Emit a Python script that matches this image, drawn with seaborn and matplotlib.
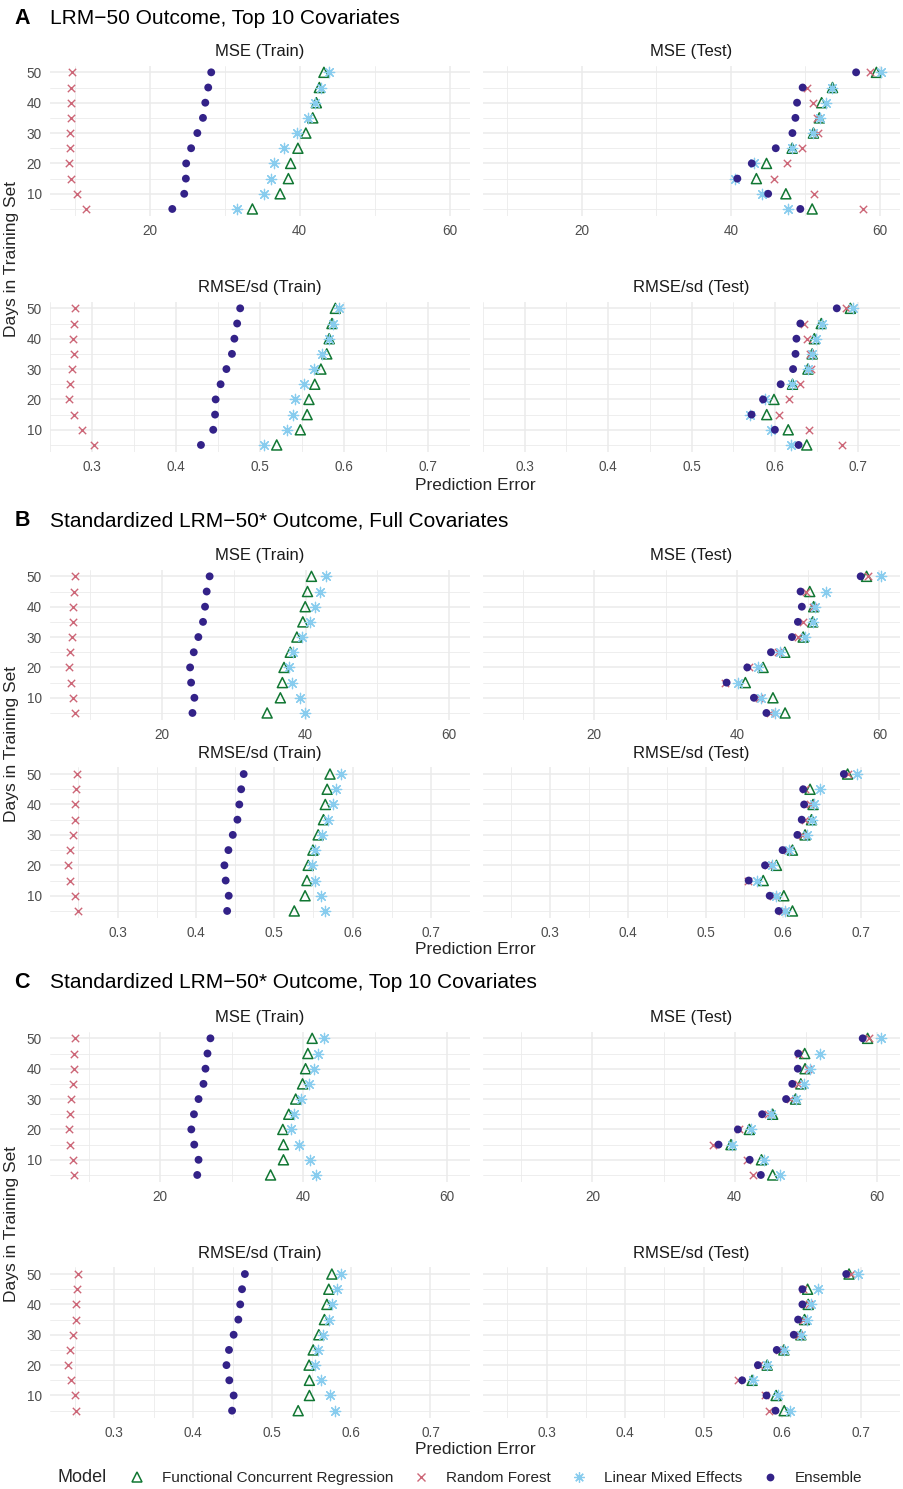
import numpy as np
import pandas as pd
import matplotlib
matplotlib.use("Agg")
import matplotlib.pyplot as plt
from matplotlib.lines import Line2D
import seaborn as sns

# ---------------- data ----------------
days = [50, 45, 40, 35, 30, 25, 20, 15, 10, 5]
models = ["Functional Concurrent Regression", "Random Forest",
          "Linear Mixed Effects", "Ensemble"]

# Section A: LRM-50 outcome, top 10 covariates
a_mse_train = {
    "Functional Concurrent Regression": [43.25, 42.64, 42.24, 41.76, 40.84, 39.78, 38.81, 38.51, 37.41, 33.71],
    "Random Forest": [9.67, 9.58, 9.54, 9.58, 9.45, 9.36, 9.27, 9.58, 10.33, 11.47],
    "Linear Mixed Effects": [43.87, 42.86, 42.11, 41.10, 39.69, 37.98, 36.62, 36.18, 35.25, 31.69],
    "Ensemble": [28.22, 27.82, 27.43, 27.12, 26.37, 25.54, 24.88, 24.84, 24.62, 23.03],
}
a_mse_test = {
    "Functional Concurrent Regression": [59.56, 53.66, 52.20, 51.89, 51.10, 48.24, 44.80, 43.44, 47.40, 50.93],
    "Random Forest": [58.72, 50.26, 51.01, 51.54, 51.72, 49.60, 47.49, 45.86, 51.23, 57.80],
    "Linear Mixed Effects": [60.18, 53.66, 52.82, 51.98, 51.10, 48.19, 43.17, 40.53, 44.23, 47.75],
    "Ensemble": [56.83, 49.65, 48.90, 48.68, 48.28, 46.04, 42.82, 40.88, 45.02, 49.34],
}
a_rmse_train = {
    "Functional Concurrent Regression": [0.5897, 0.5857, 0.5824, 0.5795, 0.5725, 0.5652, 0.5583, 0.5561, 0.5480, 0.5199],
    "Random Forest": [0.2792, 0.2781, 0.2774, 0.2781, 0.2759, 0.2741, 0.2730, 0.2784, 0.2883, 0.3029],
    "Linear Mixed Effects": [0.5941, 0.5871, 0.5816, 0.5743, 0.5645, 0.5521, 0.5422, 0.5393, 0.5320, 0.5049],
    "Ensemble": [0.4764, 0.4728, 0.4695, 0.4666, 0.4600, 0.4531, 0.4472, 0.4465, 0.4443, 0.4297],
}
a_rmse_test = {
    "Functional Concurrent Regression": [0.6905, 0.6556, 0.6473, 0.6447, 0.6396, 0.6211, 0.5989, 0.5902, 0.6160, 0.6382],
    "Random Forest": [0.6855, 0.6345, 0.6389, 0.6425, 0.6436, 0.6302, 0.6167, 0.6055, 0.6404, 0.6800],
    "Linear Mixed Effects": [0.6942, 0.6564, 0.6491, 0.6447, 0.6396, 0.6207, 0.5880, 0.5702, 0.5949, 0.6189],
    "Ensemble": [0.6742, 0.6305, 0.6258, 0.6247, 0.6218, 0.6069, 0.5858, 0.5720, 0.6000, 0.6284],
}

# Section B: standardized LRM-50*, full covariates
b_mse_train = {
    "Functional Concurrent Regression": [40.81, 40.26, 39.94, 39.61, 38.78, 37.86, 36.99, 36.76, 36.48, 34.64],
    "Random Forest": [7.89, 7.71, 7.66, 7.62, 7.43, 7.25, 7.06, 7.29, 7.57, 7.89],
    "Linear Mixed Effects": [42.88, 41.96, 41.27, 40.58, 39.43, 38.19, 37.68, 38.05, 39.20, 39.94],
    "Ensemble": [26.63, 26.22, 25.99, 25.71, 25.06, 24.42, 23.91, 24.05, 24.51, 24.24],
}
b_mse_test = {
    "Functional Concurrent Regression": [58.20, 50.23, 50.78, 50.65, 49.31, 46.73, 43.69, 41.20, 45.07, 46.77],
    "Random Forest": [58.43, 49.68, 50.74, 49.35, 48.53, 45.76, 41.75, 38.29, 43.13, 44.61],
    "Linear Mixed Effects": [60.23, 52.44, 50.92, 50.74, 49.63, 46.08, 43.04, 40.14, 43.36, 45.35],
    "Ensemble": [57.37, 48.94, 49.12, 48.57, 47.74, 44.79, 41.47, 38.57, 42.40, 44.15],
}
b_rmse_train = {
    "Functional Concurrent Regression": [0.5712, 0.5676, 0.5652, 0.5629, 0.5561, 0.5494, 0.5434, 0.5418, 0.5394, 0.5256],
    "Random Forest": [0.2485, 0.2469, 0.2461, 0.2457, 0.2429, 0.2397, 0.2366, 0.2397, 0.2453, 0.2493],
    "Linear Mixed Effects": [0.5850, 0.5795, 0.5747, 0.5692, 0.5612, 0.5521, 0.5482, 0.5517, 0.5593, 0.5648],
    "Ensemble": [0.4610, 0.4578, 0.4554, 0.4530, 0.4471, 0.4415, 0.4364, 0.4380, 0.4419, 0.4399],
}
b_rmse_test = {
    "Functional Concurrent Regression": [0.6826, 0.6343, 0.6382, 0.6362, 0.6279, 0.6117, 0.5911, 0.5741, 0.6006, 0.6117],
    "Random Forest": [0.6834, 0.6279, 0.6343, 0.6283, 0.6244, 0.6053, 0.5808, 0.5539, 0.5867, 0.5986],
    "Linear Mixed Effects": [0.6949, 0.6473, 0.6390, 0.6370, 0.6299, 0.6073, 0.5859, 0.5661, 0.5899, 0.6018],
    "Ensemble": [0.6778, 0.6255, 0.6267, 0.6236, 0.6180, 0.5990, 0.5764, 0.5554, 0.5824, 0.5939],
}

# Section C: standardized LRM-50*, top 10 covariates
c_mse_train = {
    "Functional Concurrent Regression": [41.22, 40.62, 40.30, 39.88, 38.92, 37.95, 37.12, 37.21, 37.21, 35.41],
    "Random Forest": [8.14, 8.00, 7.91, 7.87, 7.59, 7.40, 7.27, 7.45, 7.82, 8.00],
    "Linear Mixed Effects": [42.88, 42.05, 41.41, 40.72, 39.65, 38.64, 38.27, 39.33, 40.90, 41.73],
    "Ensemble": [27.01, 26.60, 26.32, 26.04, 25.35, 24.71, 24.34, 24.75, 25.35, 25.17],
}
c_mse_test = {
    "Functional Concurrent Regression": [58.71, 49.86, 49.91, 49.31, 48.57, 45.35, 42.07, 39.49, 43.78, 45.35],
    "Random Forest": [58.85, 49.08, 50.32, 48.94, 47.79, 44.70, 40.65, 37.00, 41.80, 42.58],
    "Linear Mixed Effects": [60.60, 52.07, 50.60, 49.77, 48.57, 45.07, 42.26, 39.68, 44.19, 46.45],
    "Ensemble": [58.02, 48.94, 48.89, 48.11, 47.24, 43.87, 40.46, 37.74, 42.12, 43.69],
}
c_rmse_train = {
    "Functional Concurrent Regression": [0.5753, 0.5714, 0.5690, 0.5659, 0.5588, 0.5517, 0.5465, 0.5469, 0.5469, 0.5327],
    "Random Forest": [0.2546, 0.2531, 0.2523, 0.2511, 0.2475, 0.2436, 0.2416, 0.2448, 0.2507, 0.2523],
    "Linear Mixed Effects": [0.5872, 0.5813, 0.5761, 0.5714, 0.5639, 0.5572, 0.5540, 0.5611, 0.5726, 0.5789],
    "Ensemble": [0.4653, 0.4617, 0.4594, 0.4570, 0.4511, 0.4452, 0.4420, 0.4456, 0.4511, 0.4491],
}
c_rmse_test = {
    "Functional Concurrent Regression": [0.6851, 0.6323, 0.6331, 0.6284, 0.6237, 0.6021, 0.5808, 0.5616, 0.5922, 0.6025],
    "Random Forest": [0.6870, 0.6268, 0.6335, 0.6268, 0.6213, 0.5962, 0.5698, 0.5431, 0.5785, 0.5836],
    "Linear Mixed Effects": [0.6968, 0.6457, 0.6363, 0.6312, 0.6241, 0.6021, 0.5812, 0.5627, 0.5946, 0.6103],
    "Ensemble": [0.6815, 0.6257, 0.6257, 0.6202, 0.6147, 0.5930, 0.5690, 0.5490, 0.5800, 0.5914],
}

section_letters = ["A", "B", "C"]
section_titles = ["LRM\u221250 Outcome, Top 10 Covariates",
                  "Standardized LRM\u221250* Outcome, Full Covariates",
                  "Standardized LRM\u221250* Outcome, Top 10 Covariates"]
panel_titles = [["MSE (Train)", "MSE (Test)"], ["RMSE/sd (Train)", "RMSE/sd (Test)"]]
mse_ticks = [20, 40, 60]
rmse_ticks = [0.3, 0.4, 0.5, 0.6, 0.7]
day_ticks = [10, 20, 30, 40, 50]

section_data = [
    [[a_mse_train, a_mse_test], [a_rmse_train, a_rmse_test]],
    [[b_mse_train, b_mse_test], [b_rmse_train, b_rmse_test]],
    [[c_mse_train, c_mse_test], [c_rmse_train, c_rmse_test]],
]

# ---------------- style ----------------
sns.set_theme(style="white")
plt.rcParams["font.family"] = ["Liberation Sans", "DejaVu Sans"]

colors = {"Functional Concurrent Regression": "#117733", "Random Forest": "#CC6677",
          "Linear Mixed Effects": "#88CCEE", "Ensemble": "#332288"}
markers = {"Functional Concurrent Regression": "^", "Random Forest": "x",
           "Linear Mixed Effects": (8, 2, 0), "Ensemble": "o"}
msizes = {"Functional Concurrent Regression": 52, "Random Forest": 28,
          "Linear Mixed Effects": 56, "Ensemble": 32}

W, H = 904, 1489
fig = plt.figure(figsize=(W / 100, H / 100), dpi=100)

def rect(x0, x1, top, bottom):
    return [x0 / W, 1 - bottom / H, (x1 - x0) / W, (bottom - top) / H]

cols_px = [(50, 470), (483, 900)]
layout = [  # per section: title y, [(top,bottom) row1, row2], xlabel y
    (18, [(65.5, 215.8), (301.5, 451.8)], 485),
    (521, [(569.5, 719.8), (767.2, 917.8)], 950),
    (982, [(1031.5, 1181.8), (1267.2, 1417.5)], 1450),
]
grid_c = "#EBEBEB"
tick_c = "#4D4D4D"

for s, (ty, rows, xly) in enumerate(layout):
    fig.text(22 / W, 1 - ty / H, section_letters[s], fontsize=15.5, fontweight="bold",
             ha="center", va="center", color="black")
    fig.text(50 / W, 1 - ty / H, section_titles[s], fontsize=15,
             ha="left", va="center", color="black")
    for r, (top, bot) in enumerate(rows):
        pair = section_data[s][r]
        allv = np.concatenate([np.array(v) for d in pair for v in d.values()])
        lo, hi = allv.min(), allv.max()
        pad = 0.05 * (hi - lo)
        for c, (x0, x1) in enumerate(cols_px):
            ax = fig.add_axes(rect(x0, x1, top, bot))
            d = pair[c]
            df = pd.DataFrame({"Day": days * 4,
                               "Error": sum([d[m] for m in models], []),
                               "Model": sum([[m] * len(days) for m in models], [])})
            for m in models:
                sub = df[df["Model"] == m]
                kw = dict(data=sub, x="Error", y="Day", ax=ax, marker=markers[m],
                          s=msizes[m], legend=False, zorder=3)
                if m == "Functional Concurrent Regression":
                    sns.scatterplot(**kw, facecolors="none", edgecolor=colors[m], linewidth=1.1)
                elif m == "Ensemble":
                    sns.scatterplot(**kw, color=colors[m], edgecolor="none", linewidth=0)
                elif m == "Random Forest":
                    sns.scatterplot(**kw, color=colors[m], linewidth=1.0)
                else:
                    sns.scatterplot(**kw, color=colors[m], linewidth=0.9)
            ax.set_xlim(lo - pad, hi + pad)
            ax.set_ylim(2.75, 52.25)
            if r == 0:
                ax.set_xticks(mse_ticks)
                ax.set_xticklabels([str(t) for t in mse_ticks])
                ax.set_xticks([10, 30, 50], minor=True)
            else:
                ax.set_xticks(rmse_ticks)
                ax.set_xticklabels([f"{t:.1f}" for t in rmse_ticks])
                ax.set_xticks([0.25, 0.35, 0.45, 0.55, 0.65, 0.75], minor=True)
            ax.set_yticks(day_ticks)
            ax.set_yticks([5, 15, 25, 35, 45], minor=True)
            ax.grid(which="major", color=grid_c, linewidth=1.1, zorder=0)
            ax.grid(which="minor", color=grid_c, linewidth=0.6, zorder=0)
            ax.set_axisbelow(True)
            for sp in ax.spines.values():
                sp.set_visible(False)
            ax.tick_params(which="both", length=0, labelsize=9.8, labelcolor=tick_c, pad=6)
            if c == 1:
                ax.tick_params(labelleft=False)
            ax.set_xlabel("")
            ax.set_ylabel("")
            ax.set_title(panel_titles[r][c], fontsize=12, color="#1A1A1A", pad=6.5)
    fig.text(475 / W, 1 - xly / H, "Prediction Error", fontsize=12.5, ha="center", va="center")
    yc = (rows[0][0] + rows[1][1]) / 2
    fig.text(12 / W, 1 - yc / H, "Days in Training Set", fontsize=12.5, rotation=90,
             ha="center", va="center")

# legend
handles = []
for m in models:
    if m == "Functional Concurrent Regression":
        h = Line2D([], [], linestyle="none", marker="^", markersize=7,
                   markerfacecolor="none", markeredgecolor=colors[m], markeredgewidth=1.1)
    elif m == "Ensemble":
        h = Line2D([], [], linestyle="none", marker="o", markersize=5.6,
                   markerfacecolor=colors[m], markeredgecolor="none")
    elif m == "Random Forest":
        h = Line2D([], [], linestyle="none", marker="x", markersize=5.3,
                   color=colors[m], markeredgewidth=1.0)
    else:
        h = Line2D([], [], linestyle="none", marker=(8, 2, 0), markersize=7.5,
                   color=colors[m], markeredgewidth=0.9)
    handles.append(h)
fig.text(58 / W, 1 - 1478 / H, "Model", fontsize=13, ha="left", va="center")
fig.legend(handles, models, loc="center left", bbox_to_anchor=(128 / W, 1 - 1478 / H),
           ncol=4, frameon=False, fontsize=11, handlelength=1.2, handletextpad=1.05,
           columnspacing=1.2, borderaxespad=0, borderpad=0)

fig.savefig("out.png", dpi=100)
